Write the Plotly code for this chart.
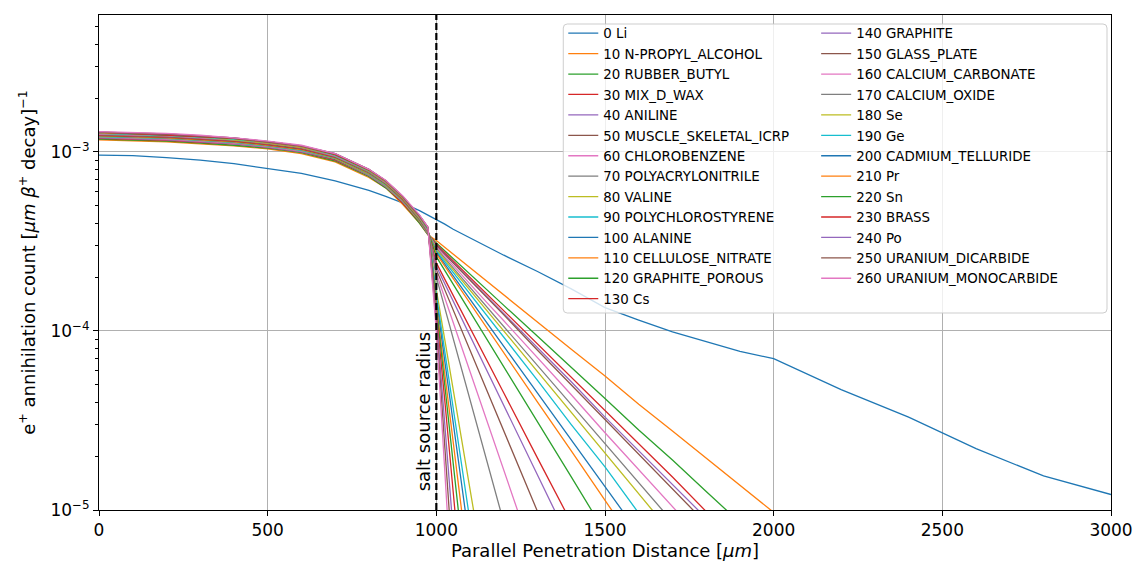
import plotly.graph_objects as go

# ---------------- data ----------------
# common distance grid [um]; each series lists values along it until it
# leaves the plot below 1e-5
x_um = [0, 100, 200, 300, 400, 500, 600, 700, 800, 850, 900, 950, 975,
        1000, 1025, 1050, 1100, 1150, 1200, 1300, 1400, 1500, 1600, 1700,
        1800, 1900, 2000, 2200, 2400, 2600, 2800, 3000]

labels = ["0 Li", "10 N-PROPYL_ALCOHOL", "20 RUBBER_BUTYL", "30 MIX_D_WAX",
          "40 ANILINE", "50 MUSCLE_SKELETAL_ICRP", "60 CHLOROBENZENE",
          "70 POLYACRYLONITRILE", "80 VALINE", "90 POLYCHLOROSTYRENE",
          "100 ALANINE", "110 CELLULOSE_NITRATE", "120 GRAPHITE_POROUS",
          "130 Cs", "140 GRAPHITE", "150 GLASS_PLATE", "160 CALCIUM_CARBONATE",
          "170 CALCIUM_OXIDE", "180 Se", "190 Ge", "200 CADMIUM_TELLURIDE",
          "210 Pr", "220 Sn", "230 BRASS", "240 Po", "250 URANIUM_DICARBIDE",
          "260 URANIUM_MONOCARBIDE"]

li = [9.6e-4, 9.55e-4, 9.3e-4, 9.0e-4, 8.6e-4, 8.1e-4, 7.6e-4, 6.9e-4, 6.1e-4, 5.65e-4, 5.2e-4, 4.7e-4, 4.45e-4,
      4.2e-4, 3.95e-4, 3.7e-4, 3.3e-4, 2.95e-4, 2.65e-4, 2.15e-4, 1.72e-4, 1.35e-4, 1.15e-4, 9.9e-5,
      8.7e-5, 7.7e-5, 7.0e-5, 4.7e-5, 3.3e-5, 2.2e-5, 1.55e-5, 1.22e-5]
n_propyl_alcohol = [1.17e-3, 1.16e-3, 1.14e-3, 1.11e-3, 1.08e-3, 1.04e-3, 9.8e-4, 8.8e-4, 7.2e-4, 6.3e-4, 5.1e-4, 4.0e-4, 3.45e-4,
                    3.2e-4, 2.93e-4, 2.69e-4, 2.25e-4, 1.89e-4, 1.59e-4, 1.12e-4, 7.9e-5, 5.6e-5, 3.9e-5, 2.76e-5,
                    1.95e-5, 1.37e-5, 9.7e-6]
rubber_butyl = [1.18e-3, 1.17e-3, 1.15e-3, 1.12e-3, 1.09e-3, 1.05e-3, 9.9e-4, 8.9e-4, 7.3e-4, 6.3e-4, 5.2e-4, 4.0e-4, 3.45e-4,
                3.1e-4, 2.8e-4, 2.54e-4, 2.08e-4, 1.7e-4, 1.39e-4, 9.35e-5, 6.3e-5, 4.2e-5, 2.8e-5, 1.9e-5,
                1.27e-5, 8.5e-6]
mix_d_wax = [1.19e-3, 1.18e-3, 1.16e-3, 1.13e-3, 1.11e-3, 1.06e-3, 1.0e-3, 9.0e-4, 7.4e-4, 6.4e-4, 5.2e-4, 4.1e-4, 3.5e-4,
             3.05e-4, 2.74e-4, 2.46e-4, 1.99e-4, 1.61e-4, 1.3e-4, 8.5e-5, 5.5e-5, 3.6e-5, 2.35e-5, 1.53e-5, 9.8e-6]
aniline = [1.2e-3, 1.19e-3, 1.17e-3, 1.14e-3, 1.11e-3, 1.06e-3, 1.0e-3, 9.1e-4, 7.4e-4, 6.4e-4, 5.3e-4, 4.1e-4, 3.5e-4,
           3.0e-4, 2.69e-4, 2.41e-4, 1.93e-4, 1.55e-4, 1.25e-4, 8.0e-5, 5.2e-5, 3.3e-5, 2.15e-5, 1.39e-5, 9.0e-6]
muscle_skeletal = [1.21e-3, 1.2e-3, 1.18e-3, 1.15e-3, 1.12e-3, 1.07e-3, 1.01e-3, 9.1e-4, 7.5e-4, 6.5e-4, 5.3e-4, 4.1e-4, 3.5e-4,
                   3.0e-4, 2.68e-4, 2.4e-4, 1.92e-4, 1.53e-4, 1.23e-4, 7.8e-5, 5.0e-5, 3.2e-5, 2.05e-5, 1.31e-5, 8.4e-6]
chlorobenzene = [1.21e-3, 1.2e-3, 1.18e-3, 1.15e-3, 1.12e-3, 1.07e-3, 1.01e-3, 9.2e-4, 7.5e-4, 6.5e-4, 5.3e-4, 4.15e-4, 3.5e-4,
                 2.95e-4, 2.62e-4, 2.32e-4, 1.83e-4, 1.44e-4, 1.14e-4, 7.1e-5, 4.4e-5, 2.7e-5, 1.69e-5, 1.05e-5, 6.5e-6]
polyacrylonitrile = [1.22e-3, 1.21e-3, 1.19e-3, 1.16e-3, 1.13e-3, 1.08e-3, 1.02e-3, 9.2e-4, 7.5e-4, 6.5e-4, 5.35e-4, 4.15e-4, 3.5e-4,
                     2.9e-4, 2.55e-4, 2.25e-4, 1.75e-4, 1.36e-4, 1.06e-4, 6.4e-5, 3.9e-5, 2.35e-5, 1.42e-5, 8.6e-6]
valine = [1.22e-3, 1.21e-3, 1.19e-3, 1.16e-3, 1.13e-3, 1.08e-3, 1.02e-3, 9.2e-4, 7.5e-4, 6.5e-4, 5.35e-4, 4.15e-4, 3.55e-4,
          2.85e-4, 2.5e-4, 2.19e-4, 1.69e-4, 1.3e-4, 1.0e-4, 5.9e-5, 3.5e-5, 2.08e-5, 1.23e-5, 7.3e-6]
polychlorostyrene = [1.22e-3, 1.21e-3, 1.19e-3, 1.16e-3, 1.13e-3, 1.08e-3, 1.02e-3, 9.25e-4, 7.55e-4, 6.55e-4, 5.35e-4, 4.2e-4, 3.55e-4,
                     2.8e-4, 2.44e-4, 2.12e-4, 1.61e-4, 1.22e-4, 9.2e-5, 5.3e-5, 3.0e-5, 1.74e-5, 9.6e-6]
alanine = [1.23e-3, 1.22e-3, 1.2e-3, 1.17e-3, 1.14e-3, 1.09e-3, 1.03e-3, 9.3e-4, 7.6e-4, 6.6e-4, 5.4e-4, 4.2e-4, 3.55e-4,
           2.75e-4, 2.36e-4, 2.03e-4, 1.5e-4, 1.11e-4, 8.2e-5, 4.5e-5, 2.47e-5, 1.35e-5, 7.4e-6]
cellulose_nitrate = [1.23e-3, 1.22e-3, 1.2e-3, 1.17e-3, 1.14e-3, 1.09e-3, 1.03e-3, 9.3e-4, 7.6e-4, 6.6e-4, 5.4e-4, 4.2e-4, 3.55e-4,
                     2.7e-4, 2.3e-4, 1.97e-4, 1.43e-4, 1.04e-4, 7.6e-5, 4.0e-5, 2.14e-5, 1.13e-5, 6.0e-6]
graphite_porous = [1.24e-3, 1.23e-3, 1.21e-3, 1.18e-3, 1.15e-3, 1.1e-3, 1.04e-3, 9.35e-4, 7.65e-4, 6.65e-4, 5.45e-4, 4.2e-4, 3.6e-4,
                   2.6e-4, 2.18e-4, 1.82e-4, 1.28e-4, 9.0e-5, 6.3e-5, 3.1e-5, 1.53e-5, 7.5e-6]
cs = [1.24e-3, 1.23e-3, 1.21e-3, 1.18e-3, 1.15e-3, 1.1e-3, 1.04e-3, 9.4e-4, 7.7e-4, 6.7e-4, 5.45e-4, 4.25e-4, 3.6e-4,
      2.4e-4, 1.95e-4, 1.58e-4, 1.04e-4, 6.8e-5, 4.5e-5, 1.95e-5, 8.5e-6]
graphite = [1.25e-3, 1.24e-3, 1.22e-3, 1.19e-3, 1.16e-3, 1.11e-3, 1.05e-3, 9.45e-4, 7.7e-4, 6.7e-4, 5.5e-4, 4.25e-4, 3.6e-4,
            2.3e-4, 1.84e-4, 1.47e-4, 9.4e-5, 6.0e-5, 3.8e-5, 1.57e-5, 6.4e-6]
glass_plate = [1.25e-3, 1.24e-3, 1.22e-3, 1.19e-3, 1.16e-3, 1.11e-3, 1.05e-3, 9.5e-4, 7.75e-4, 6.75e-4, 5.5e-4, 4.3e-4, 3.65e-4,
               2.2e-4, 1.7e-4, 1.31e-4, 7.8e-5, 4.7e-5, 2.8e-5, 9.8e-6]
calcium_carbonate = [1.26e-3, 1.25e-3, 1.23e-3, 1.2e-3, 1.17e-3, 1.12e-3, 1.06e-3, 9.5e-4, 7.8e-4, 6.75e-4, 5.55e-4, 4.3e-4, 3.65e-4,
                     2.1e-4, 1.53e-4, 1.11e-4, 5.9e-5, 3.1e-5, 1.66e-5, 4.7e-6]
calcium_oxide = [1.27e-3, 1.26e-3, 1.24e-3, 1.21e-3, 1.17e-3, 1.12e-3, 1.06e-3, 9.6e-4, 7.8e-4, 6.8e-4, 5.55e-4, 4.3e-4, 3.7e-4,
                 2.0e-4, 1.35e-4, 9.1e-5, 4.1e-5, 1.88e-5, 8.5e-6]
se = [1.27e-3, 1.26e-3, 1.24e-3, 1.21e-3, 1.17e-3, 1.12e-3, 1.06e-3, 9.6e-4, 7.8e-4, 6.8e-4, 5.55e-4, 4.3e-4, 3.7e-4,
      1.7e-4, 8.9e-5, 4.7e-5, 1.29e-5, 3.6e-6]
ge = [1.27e-3, 1.26e-3, 1.24e-3, 1.21e-3, 1.18e-3, 1.13e-3, 1.07e-3, 9.6e-4, 7.85e-4, 6.85e-4, 5.6e-4, 4.35e-4, 3.7e-4,
      1.6e-4, 7.7e-5, 3.7e-5, 8.6e-6]
cadmium_telluride = [1.28e-3, 1.27e-3, 1.25e-3, 1.22e-3, 1.19e-3, 1.13e-3, 1.07e-3, 9.7e-4, 7.9e-4, 6.85e-4, 5.6e-4, 4.35e-4, 3.75e-4,
                     1.5e-4, 6.8e-5, 3.0e-5, 6.3e-6]
pr = [1.28e-3, 1.27e-3, 1.25e-3, 1.22e-3, 1.19e-3, 1.13e-3, 1.07e-3, 9.7e-4, 7.9e-4, 6.85e-4, 5.6e-4, 4.35e-4, 3.75e-4,
      1.4e-4, 5.8e-5, 2.4e-5, 4.1e-6]
sn = [1.29e-3, 1.27e-3, 1.25e-3, 1.22e-3, 1.19e-3, 1.14e-3, 1.08e-3, 9.7e-4, 7.95e-4, 6.9e-4, 5.65e-4, 4.4e-4, 3.75e-4,
      1.35e-4, 5.0e-5, 1.82e-5, 2.5e-6]
brass = [1.29e-3, 1.27e-3, 1.25e-3, 1.22e-3, 1.19e-3, 1.14e-3, 1.08e-3, 9.7e-4, 7.95e-4, 6.9e-4, 5.65e-4, 4.4e-4, 3.8e-4,
         1.3e-4, 4.1e-5, 1.26e-5, 1.2e-6]
po = [1.29e-3, 1.28e-3, 1.26e-3, 1.23e-3, 1.2e-3, 1.14e-3, 1.08e-3, 9.8e-4, 8.0e-4, 6.9e-4, 5.65e-4, 4.4e-4, 3.8e-4,
      1.2e-4, 3.0e-5, 7.6e-6]
uranium_dicarbide = [1.29e-3, 1.28e-3, 1.26e-3, 1.23e-3, 1.2e-3, 1.14e-3, 1.08e-3, 9.8e-4, 8.0e-4, 6.9e-4, 5.65e-4, 4.4e-4, 3.8e-4,
                     1.1e-4, 2.3e-5, 4.7e-6]
uranium_monocarbide = [1.3e-3, 1.29e-3, 1.27e-3, 1.24e-3, 1.2e-3, 1.15e-3, 1.09e-3, 9.8e-4, 8.0e-4, 6.95e-4, 5.7e-4, 4.45e-4, 3.8e-4,
                       1.0e-4, 1.66e-5, 2.75e-6]

series_values = [li, n_propyl_alcohol, rubber_butyl, mix_d_wax, aniline, muscle_skeletal,
                 chlorobenzene, polyacrylonitrile, valine, polychlorostyrene, alanine,
                 cellulose_nitrate, graphite_porous, cs, graphite, glass_plate,
                 calcium_carbonate, calcium_oxide, se, ge, cadmium_telluride, pr, sn,
                 brass, po, uranium_dicarbide, uranium_monocarbide]

x_ticks = [0, 500, 1000, 1500, 2000, 2500, 3000]
y_ticks = [1e-5, 1e-4, 1e-3]
y_tick_text = ["10<sup>−5</sup>", "10<sup>−4</sup>", "10<sup>−3</sup>"]
y_minor_ticks = [2e-5, 3e-5, 4e-5, 5e-5, 6e-5, 7e-5, 8e-5, 9e-5,
                 2e-4, 3e-4, 4e-4, 5e-4, 6e-4, 7e-4, 8e-4, 9e-4,
                 2e-3, 3e-3, 4e-3, 5e-3]
source_radius_um = 1000

# ---------------- styling ----------------
tab10 = ['#1f77b4', '#ff7f0e', '#2ca02c', '#d62728', '#9467bd',
         '#8c564b', '#e377c2', '#7f7f7f', '#bcbd22', '#17becf']
FONT = "DejaVu Sans"

fig = go.Figure()
for i, (name, vals) in enumerate(zip(labels, series_values)):
    fig.add_trace(go.Scatter(
        x=x_um[:len(vals)], y=vals, mode="lines", name=name,
        line=dict(color=tab10[i % 10], width=1.3),
        legend="legend" if i < 14 else "legend2",
        legendgroup=name,
    ))

W, H = 1134, 567
L, R, T, B = 98.5, 23, 15, 57
pw, ph = W - L - R, H - T - B

def px_x(px):
    return (px - L) / pw

def px_y(py):
    return (H - B - py) / ph

axis_common = dict(showline=True, mirror=True, linecolor="black", linewidth=1.1,
                   ticks="outside", ticklen=5, tickwidth=1.1, tickcolor="black",
                   showgrid=True, gridcolor="#b0b0b0", gridwidth=0.9, zeroline=False,
                   automargin=False,
                   tickfont=dict(size=17, color="black", family=FONT))

leg_common = dict(xanchor="left", yanchor="top", bgcolor="rgba(0,0,0,0)", borderwidth=0,
                  font=dict(size=13.4, family=FONT, color="black"), tracegroupgap=0,
                  maxheight=420)

fig.update_layout(
    width=W, height=H,
    margin=dict(l=L, r=R, t=T, b=B, autoexpand=False),
    plot_bgcolor="white", paper_bgcolor="white",
    font=dict(family=FONT, size=17, color="black"),
    legend=dict(x=px_x(563), y=px_y(18), **leg_common),
    legend2=dict(x=px_x(816), y=px_y(18), **leg_common),
    xaxis=dict(range=[0, 3000], tickvals=x_ticks, **axis_common,
               title=dict(text="Parallel Penetration Distance [<i>μm</i>]",
                          font=dict(size=18, family=FONT), standoff=4)),
    yaxis=dict(type="log", range=[-5, -2.235], tickmode="array",
               tickvals=y_ticks, ticktext=y_tick_text, **axis_common,
               minor=dict(ticks="outside", ticklen=3, tickwidth=0.8, tickcolor="black",
                          tickmode="array", tickvals=y_minor_ticks, showgrid=False),
               title=dict(text="e<sup>+</sup> annihilation count [<i>μm β</i><sup>+</sup> decay]<sup>−1</sup>",
                          font=dict(size=18, family=FONT), standoff=10)),
)

# salt source radius marker
fig.add_shape(type="line", xref="x", yref="paper", x0=source_radius_um, x1=source_radius_um,
              y0=0, y1=1, line=dict(color="black", width=2.2, dash="7px,3px"), layer="above")
fig.add_annotation(text="salt source radius", x=source_radius_um, xref="x", y=-4.905, yref="y",
                   textangle=-90, xanchor="right", yanchor="bottom", showarrow=False,
                   font=dict(size=18, family=FONT, color="black"))

# legend frame (semi-transparent, like matplotlib)
x0, x1, y0, y1 = px_x(563), px_x(1107), px_y(313), px_y(24)
rx, ry = 4 / pw, 4 / ph
path = (f"M {x0+rx},{y0} L {x1-rx},{y0} Q {x1},{y0} {x1},{y0+ry} "
        f"L {x1},{y1-ry} Q {x1},{y1} {x1-rx},{y1} L {x0+rx},{y1} "
        f"Q {x0},{y1} {x0},{y1-ry} L {x0},{y0+ry} Q {x0},{y0} {x0+rx},{y0} Z")
fig.add_shape(type="path", path=path, xref="paper", yref="paper",
              fillcolor="rgba(255,255,255,0.8)", line=dict(color="rgba(200,200,200,0.9)", width=1),
              layer="above")

# the page's default body margin would offset the figure by 8 px
fig.write_html("out.html", config={"displayModeBar": False},
               post_script="document.body.style.margin='0';")
